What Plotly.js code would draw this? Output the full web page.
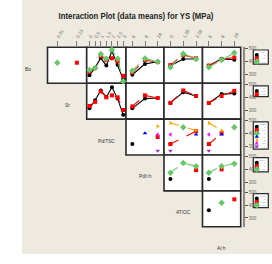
<!DOCTYPE html>
<html><head><meta charset="utf-8">
<script src="https://cdn.plot.ly/plotly-3.0.1.min.js"></script>
<style>html,body{margin:0;padding:0;background:#fff}#chart{width:272px;height:264px}</style>
</head><body><div id="chart"></div><script>
// ---- data ----
const factors = ["Bo","Sr","Pd/TSC","Pd/t h","AT/OC","At h"];
const levelsBo = ["0","0.1","0.3"];
const levelsSr = ["0.01","0.13"];
const levelsPdTSC = ["0","0.5","1","1.5","2","2.5","3"];
const levelsPdth = ["6","8","24"];
const levelsATOC = ["0","1.28","2.56"];
const levelsAth = ["6","8","24"];

// rows: trace factor (Bo, Sr, Pd/TSC, Pd/t h, AT/OC); columns: x factor (Sr, Pd/TSC, Pd/t h, AT/OC, At h)
const bo_Sr    = [[null,null],[null,390],[390,null]];
const bo_PdTSC = [[294,352,426,368,479,374,263],[320,350,440,410,425,400,289],[334,350,458,420,490,421,247]];
const bo_Pdth  = [[297,381,397],[315,410,395],[329,423,397]];
const bo_ATOC  = [[366,419,419],[372,450,425],[355,460,419]];
const bo_Ath   = [[366,420,413],[368,415,430],[355,413,466]];
const sr_PdTSC = [[315,377,453,402,477,390,265],[333,365,445,400,415,400,302]];
const sr_Pdth  = [[315,390,395],[330,415,395]];
const sr_ATOC  = [[357,440,410],[357,453,410]];
const sr_Ath   = [[357,425,430],[357,410,450]];
const pd_Pdth  = [[317,null,null],[null,null,371],[null,null,null],[null,400,null],[null,null,453],[null,null,390],[null,null,264]];
const pd_ATOC  = [[317,null,null],[316,null,416],[null,447,null],[null,null,390],[479,null,421],[390,null,null],[264,null,null]];
const pd_Ath   = [[317,null,null],[316,400,null],[null,null,447],[null,390,null],[479,421,null],[390,null,null],[264,null,null]];
const pt_ATOC  = [[323,null,null],[null,null,392],[372,447,423]];
const pt_Ath   = [[323,null,null],[null,398,null],[372,423,442]];
const at_Ath   = [[359,null,null],[null,null,444],[null,418,null]];
const yTicks = [300,400,500];

// ---- layout helpers ----
const W=272,H=264;
const px=x=>x/W, py=y=>1-y/H;
const colEdges=[47.5,86.7,126,164,202.5,240.7];
const rowEdges=[47.3,83.2,119.1,155,190.9,226.8];
const xLevels=[levelsSr,levelsPdTSC,levelsPdth,levelsATOC,levelsAth];
const rowLevels=[levelsBo,levelsSr,levelsPdTSC,levelsPdth,levelsATOC];
const grid=[
  [bo_Sr,bo_PdTSC,bo_Pdth,bo_ATOC,bo_Ath],
  [null,sr_PdTSC,sr_Pdth,sr_ATOC,sr_Ath],
  [null,null,pd_Pdth,pd_ATOC,pd_Ath],
  [null,null,null,pt_ATOC,pt_Ath],
  [null,null,null,null,at_Ath]
];
const colors=['#000000','#FF0000','#66C866','#0000FF','#FFA500','#FF00FF','#9933CC'];
const symbols=['circle','square','diamond','triangle-up','triangle-right','triangle-left','triangle-down'];
const dashes=['solid','dash','dash','dash','dash','dash','dash'];
const msize=s=>s===2?5:4;

const traces=[];
const layout={
  width:W,height:H,autosize:false,
  margin:{l:0,r:0,t:0,b:0},
  paper_bgcolor:'#ffffff',plot_bgcolor:'rgba(0,0,0,0)',
  font:{family:'Liberation Sans, Arial, sans-serif',size:5,color:'#444'},
  showlegend:false,
  title:{text:'<b>Interaction Plot (data means) for YS (MPa)</b>',
    font:{family:'Liberation Sans, Arial, sans-serif',size:9.5,color:'#222'},
    x:0.5,xanchor:'center',y:py(15.5),yanchor:'middle'},
  shapes:[{type:'rect',xref:'paper',yref:'paper',x0:px(22),x1:1,y0:py(254),y1:1,
    fillcolor:'#EEEAE0',line:{width:0},layer:'below'}],
  annotations:[]
};

let k=0;
for(let r=0;r<5;r++){
  for(let c=r;c<5;c++){
    k++;
    const xa='xaxis'+k, ya='yaxis'+k;
    const nx=xLevels[c].length;
    const idx=xLevels[c].map((_,i)=>i);
    layout[xa]={domain:[px(colEdges[c]),px(colEdges[c+1])],range:[-0.5,nx-0.5],
      anchor:'y'+k,showgrid:false,zeroline:false,showline:false,
      tickvals:idx,ticktext:xLevels[c],fixedrange:true};
    if(r===0){
      Object.assign(layout[xa],{side:'top',ticks:'outside',ticklen:5,tickwidth:1,tickcolor:'#777',
        tickangle:-60,tickfont:{size:4.5,color:'#666'},showticklabels:true});
    } else {
      Object.assign(layout[xa],{ticks:'',showticklabels:false});
    }
    layout[ya]={domain:[py(rowEdges[r+1]),py(rowEdges[r])],range:[232,509],
      anchor:'x'+k,showgrid:false,zeroline:false,fixedrange:true};
    if(c===4){
      Object.assign(layout[ya],{side:'right',anchor:'free',position:px(243.3),
        showline:true,linecolor:'#8a8a8a',linewidth:1.5,ticks:'outside',ticklen:3,tickcolor:'#555',
        tickvals:yTicks,tickfont:{size:4.5,color:'#666'},showticklabels:true});
    } else {
      Object.assign(layout[ya],{showline:false,ticks:'',showticklabels:false});
    }
    layout.shapes.push({type:'rect',xref:'paper',yref:'paper',
      x0:px(colEdges[c]),x1:px(colEdges[c+1]),y0:py(rowEdges[r+1]),y1:py(rowEdges[r]),
      fillcolor:'#ffffff',line:{color:'#2a2a2a',width:1.6},layer:'below'});
    const series=grid[r][c];
    series.forEach((ys,s)=>{
      traces.push({type:'scatter',mode:'lines+markers',xaxis:'x'+k,yaxis:'y'+k,
        x:idx,y:ys,connectgaps:true,cliponaxis:false,
        line:{color:colors[s],width:1.1,dash:dashes[s]},
        marker:{color:colors[s],symbol:symbols[s],size:msize(s),line:{width:0}},
        hoverinfo:'skip'});
    });
  }
}

// factor labels on the diagonal
factors.forEach((f,i)=>{
  const c=i-1;
  const xc=c<0?colEdges[0]-(colEdges[1]-colEdges[0])/2:(colEdges[c]+colEdges[c+1])/2;
  const r0=i<5?rowEdges[i]:rowEdges[5];
  const r1=i<5?rowEdges[i+1]:rowEdges[5]+(rowEdges[5]-rowEdges[4]);
  layout.annotations.push({xref:'paper',yref:'paper',x:px(xc),y:py((r0+r1)/2+4),
    text:f,showarrow:false,font:{size:4.8,color:'#333'},xanchor:'center',yanchor:'middle'});
});

// per-row legend boxes (on a pixel overlay axis)
k++;
layout['xaxis'+k]={domain:[0,1],range:[0,W],visible:false,fixedrange:true,anchor:'y'+k};
layout['yaxis'+k]={domain:[0,1],range:[H,0],visible:false,fixedrange:true,anchor:'x'+k};
const step=3.3;
rowLevels.forEach((lv,r)=>{
  const top=rowEdges[r]+2.7;
  const first=top+5;
  const bottom=first+(lv.length-1)*step+2.5;
  layout.shapes.push({type:'rect',xref:'paper',yref:'paper',x0:px(253.3),x1:px(268.3),
    y0:py(bottom),y1:py(top),fillcolor:'#ffffff',line:{color:'#2a2a2a',width:1.2},layer:'below'});
  layout.annotations.push({xref:'paper',yref:'paper',x:px(267),y:py(top+0.3),text:factors[r],
    showarrow:false,xanchor:'right',yanchor:'top',borderpad:0,font:{size:2.3,color:'#888'}});
  lv.forEach((name,s)=>{
    const yy=first+s*step;
    traces.push({type:'scatter',mode:'markers',xaxis:'x'+k,yaxis:'y'+k,x:[256.8],y:[yy],
      marker:{color:colors[s],symbol:symbols[s],size:msize(s),line:{width:0}},hoverinfo:'skip',cliponaxis:false});
    layout.annotations.push({xref:'paper',yref:'paper',x:px(267),y:py(yy),text:name,
      showarrow:false,xanchor:'right',yanchor:'middle',borderpad:0,font:{size:2.3,color:'#888'}});
  });
});

Plotly.newPlot('chart',traces,layout,{staticPlot:true,displayModeBar:false}).then(gd=>{
  // condense the title horizontally to match the narrow original typeface
  const t=gd.querySelector('.gtitle');
  if(t){
    const bb=t.getBBox();
    const cx=bb.x+bb.width/2;
    const s=155/bb.width;
    const prev=t.getAttribute('transform')||'';
    t.setAttribute('transform',prev+` translate(${cx},0) scale(${s},1) translate(${-cx},0)`);
  }
});
</script></body></html>
